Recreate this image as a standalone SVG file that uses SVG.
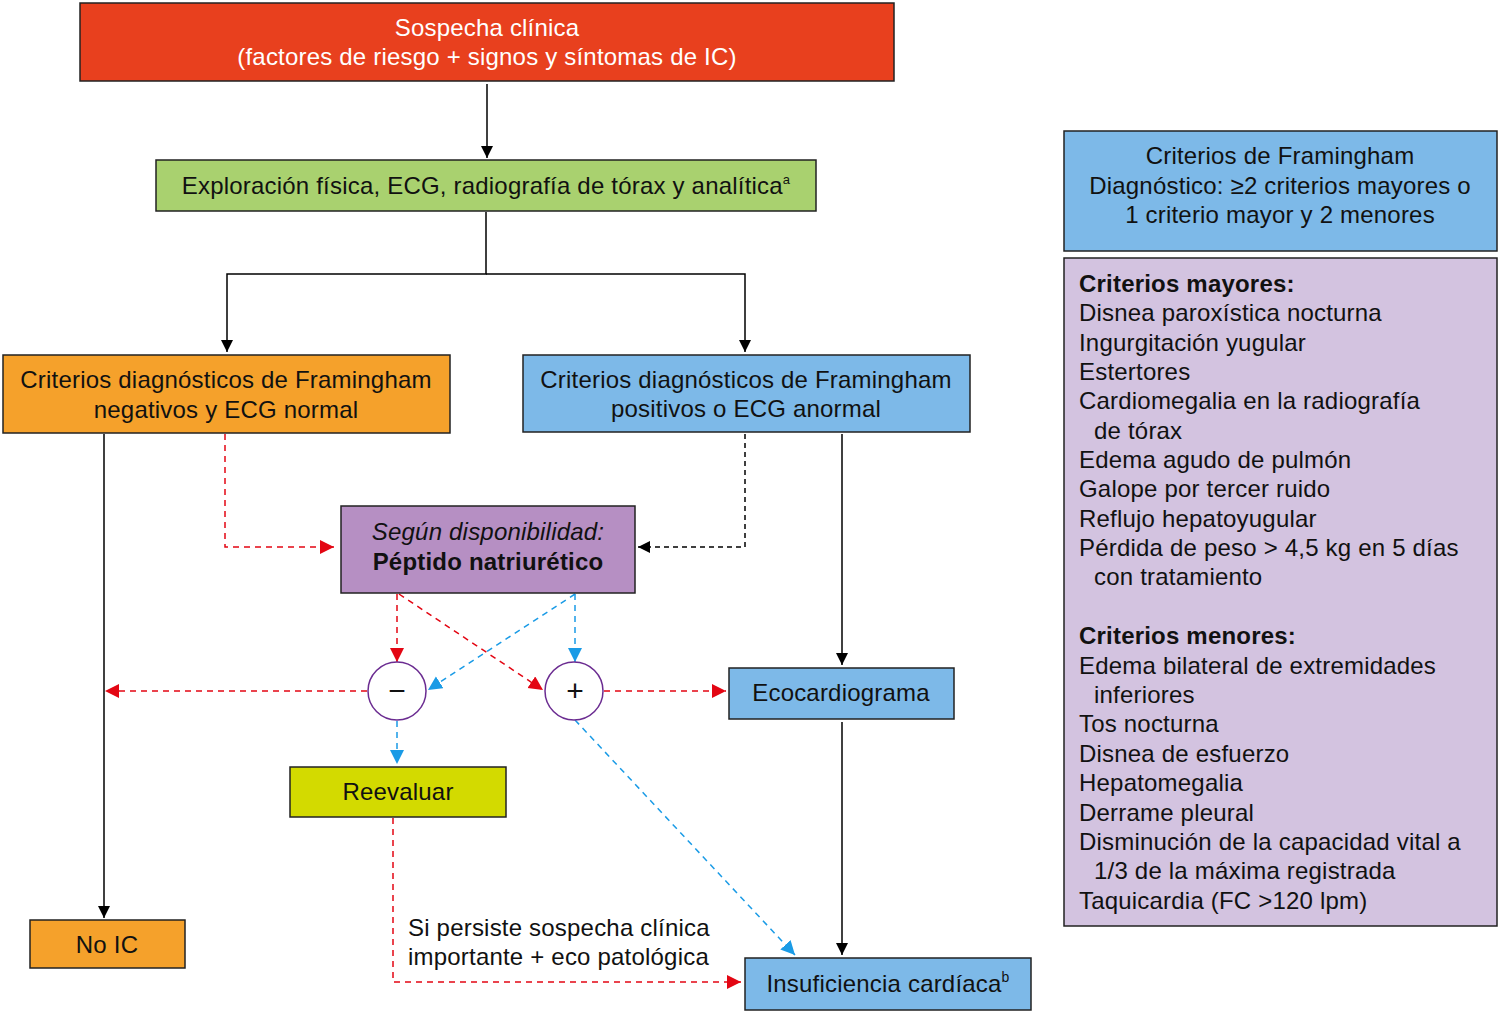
<svg xmlns="http://www.w3.org/2000/svg" width="1500" height="1013" viewBox="0 0 1500 1013">
<defs>
<style>
text{font-family:"Liberation Sans",Arial,sans-serif;font-size:24px;letter-spacing:0.2px;fill:#111}
.box{stroke:#222;stroke-width:1.5}
.c{text-anchor:middle}
.sg{font-size:30px}
.ln{fill:none;stroke-width:1.5}
.k{stroke:#000}
.r{stroke:#E30613;stroke-dasharray:6 5}
.b{stroke:#1A9BE6;stroke-dasharray:6 5}
.kd{stroke:#000;stroke-dasharray:5 4}
.circ{fill:#fff;stroke:#6B2C91;stroke-width:1.5}
</style>
<marker id="ak" markerWidth="14" markerHeight="14" refX="12" refY="6" orient="auto" markerUnits="userSpaceOnUse"><path d="M0,0L12,6L0,12z" fill="#000"/></marker>
<marker id="ar" markerWidth="16" markerHeight="16" refX="14" refY="7" orient="auto" markerUnits="userSpaceOnUse"><path d="M0,0L14,7L0,14z" fill="#E30613"/></marker>
<marker id="ab" markerWidth="16" markerHeight="16" refX="14" refY="7" orient="auto" markerUnits="userSpaceOnUse"><path d="M0,0L14,7L0,14z" fill="#1A9BE6"/></marker>
</defs>
<rect width="1500" height="1013" fill="#fff"/>
<g id="connectors">
<path class="ln k" d="M487,84V158" marker-end="url(#ak)"/>
<path class="ln k" d="M486,212V274H227V352" marker-end="url(#ak)"/>
<path class="ln k" d="M486,274H745V352" marker-end="url(#ak)"/>
<path class="ln k" d="M104,434V918" marker-end="url(#ak)"/>
<path class="ln r" d="M225,434V547H334" marker-end="url(#ar)"/>
<path class="ln kd" d="M745,434V547H638" marker-end="url(#ak)"/>
<path class="ln k" d="M842,434V665" marker-end="url(#ak)"/>
<path class="ln k" d="M842,722V955" marker-end="url(#ak)"/>
<path class="ln r" d="M397,594V662" marker-end="url(#ar)"/>
<path class="ln r" d="M399,594L543,690" marker-end="url(#ar)"/>
<path class="ln b" d="M575,594L428,690" marker-end="url(#ab)"/>
<path class="ln b" d="M575,594V662" marker-end="url(#ab)"/>
<path class="ln r" d="M367,691H105" marker-end="url(#ar)"/>
<path class="ln r" d="M604,691H726" marker-end="url(#ar)"/>
<path class="ln b" d="M397,721V764" marker-end="url(#ab)"/>
<path class="ln b" d="M575,720L795,955" marker-end="url(#ab)"/>
<path class="ln r" d="M393,818V982H741" marker-end="url(#ar)"/>
</g>
<g id="sospecha"><rect class="box" x="80" y="3" width="814" height="78" fill="#E8401E"/>
<text class="c" x="487" y="36" style="fill:#fff">Sospecha clínica</text>
<text class="c" x="487" y="65" style="fill:#fff">(factores de riesgo + signos y síntomas de IC)</text></g>
<g id="exploracion"><rect class="box" x="156" y="160" width="660" height="51" fill="#A9D16F"/>
<text class="c" x="486" y="194">Exploración física, ECG, radiografía de tórax y analítica<tspan font-size="13" dy="-10">a</tspan></text></g>
<g id="negativos"><rect class="box" x="3" y="355" width="447" height="78" fill="#F5A12B"/>
<text class="c" x="226" y="388">Criterios diagnósticos de Framingham</text>
<text class="c" x="226" y="418">negativos y ECG normal</text></g>
<g id="positivos"><rect class="box" x="523" y="355" width="447" height="77" fill="#7DB9E8"/>
<text class="c" x="746" y="388">Criterios diagnósticos de Framingham</text>
<text class="c" x="746" y="417">positivos o ECG anormal</text></g>
<g id="peptido"><rect class="box" x="341" y="506" width="294" height="87" fill="#B68FC3"/>
<text class="c" x="488" y="540" font-style="italic">Según disponibilidad:</text>
<text class="c" x="488" y="570" font-weight="bold">Péptido natriurético</text></g>
<g id="menos"><circle class="circ" cx="397" cy="691" r="29"/><text class="c sg" x="397" y="701">−</text></g>
<g id="mas"><circle class="circ" cx="574" cy="691" r="29"/><text class="c sg" x="575" y="701">+</text></g>
<g id="eco"><rect class="box" x="729" y="668" width="225" height="51" fill="#7DB9E8"/>
<text class="c" x="841" y="701">Ecocardiograma</text></g>
<g id="reevaluar"><rect class="box" x="290" y="767" width="216" height="50" fill="#D3DA00"/>
<text class="c" x="398" y="800">Reevaluar</text></g>
<g id="noic"><rect class="box" x="30" y="920" width="155" height="48" fill="#F5A12B"/>
<text class="c" x="107" y="953">No IC</text></g>
<g id="ic"><rect class="box" x="745" y="958" width="286" height="52" fill="#7DB9E8"/>
<text class="c" x="888" y="992">Insuficiencia cardíaca<tspan font-size="14" dy="-10">b</tspan></text></g>
<g id="label"><text x="408" y="936">Si persiste sospecha clínica</text>
<text x="408" y="965">importante + eco patológica</text></g>
<g id="framingham"><rect class="box" x="1064" y="131" width="433" height="120" fill="#7DB9E8"/>
<text class="c" x="1280" y="164">Criterios de Framingham</text>
<text class="c" x="1280" y="194">Diagnóstico: ≥2 criterios mayores o</text>
<text class="c" x="1280" y="223">1 criterio mayor y 2 menores</text></g>
<g id="criterios"><rect class="box" x="1064" y="258" width="433" height="668" fill="#D3C3E0"/>
<text x="1079" y="292" font-weight="bold">Criterios mayores:</text>
<text x="1079" y="321">Disnea paroxística nocturna</text>
<text x="1079" y="351">Ingurgitación yugular</text>
<text x="1079" y="380">Estertores</text>
<text x="1079" y="409">Cardiomegalia en la radiografía</text>
<text x="1094" y="439">de tórax</text>
<text x="1079" y="468">Edema agudo de pulmón</text>
<text x="1079" y="497">Galope por tercer ruido</text>
<text x="1079" y="527">Reflujo hepatoyugular</text>
<text x="1079" y="556">Pérdida de peso &gt; 4,5 kg en 5 días</text>
<text x="1094" y="585">con tratamiento</text>
<text x="1079" y="644" font-weight="bold">Criterios menores:</text>
<text x="1079" y="674">Edema bilateral de extremidades</text>
<text x="1094" y="703">inferiores</text>
<text x="1079" y="732">Tos nocturna</text>
<text x="1079" y="762">Disnea de esfuerzo</text>
<text x="1079" y="791">Hepatomegalia</text>
<text x="1079" y="821">Derrame pleural</text>
<text x="1079" y="850">Disminución de la capacidad vital a</text>
<text x="1094" y="879">1/3 de la máxima registrada</text>
<text x="1079" y="909">Taquicardia (FC &gt;120 lpm)</text></g>
</svg>
